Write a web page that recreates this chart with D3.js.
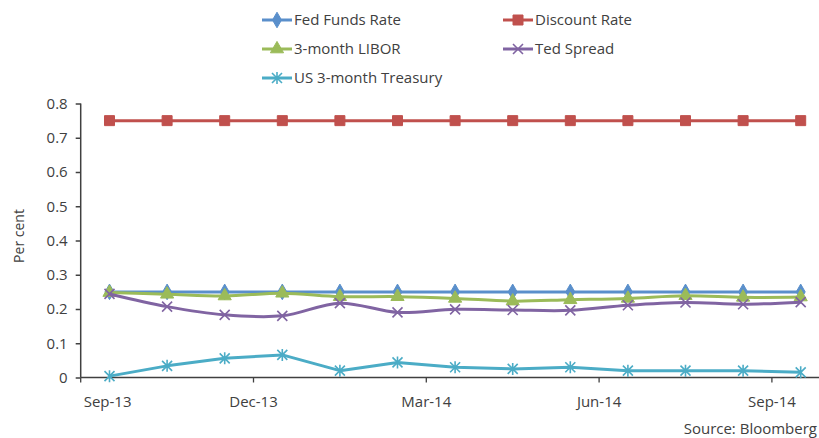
<!DOCTYPE html>
<html>
  <head>
    <meta charset="utf-8">
    <title>Rates</title>
    <script src="https://cdn.jsdelivr.net/npm/d3@7"></script>
    <style>
      body { margin: 0; background: #fff; }
      text { font-family: "Open Sans", sans-serif; fill: #404040; }
    </style>
  </head>
  <body>
    <svg width="819" height="438" id="mainsvg"></svg>
    <script>

    // months (categories) and the five series
    const months = ['Sep-13','Oct-13','Nov-13','Dec-13','Jan-14','Feb-14','Mar-14',
                    'Apr-14','May-14','Jun-14','Jul-14','Aug-14','Sep-14'];
    const fedFunds = [0.25,0.25,0.25,0.25,0.25,0.25,0.25,0.25,0.25,0.25,0.25,0.25,0.25];
    const discount = [0.75,0.75,0.75,0.75,0.75,0.75,0.75,0.75,0.75,0.75,0.75,0.75,0.75];
    const libor    = [0.248,0.243,0.238,0.246,0.236,0.236,0.231,0.223,0.227,0.231,0.239,0.234,0.235];
    const ted      = [0.244,0.207,0.183,0.180,0.217,0.190,0.199,0.197,0.196,0.211,0.219,0.214,0.220];
    const treasury = [0.004,0.034,0.056,0.066,0.020,0.044,0.030,0.025,0.030,0.020,0.020,0.020,0.015];
    const yTicks = [0,0.1,0.2,0.3,0.4,0.5,0.6,0.7,0.8];
    const xTickMonths = ['Sep-13','Dec-13','Mar-14','Jun-14','Sep-14'];

    const svg = d3.select('svg');

    const x = d3.scaleBand().domain(months).range([80.7, 80.7 + 13 * 57.6]);
    const y = d3.scaleLinear().domain([0, 0.8]).range([377.5, 103.5]);

    const series = [
      { name: 'Fed Funds Rate', values: fedFunds, color: '#5A8FCB', marker: 'diamond', smooth: false },
      { name: 'Discount Rate', values: discount, color: '#C0504D', marker: 'square', smooth: false },
      { name: '3-month LIBOR', values: libor, color: '#9BBB59', marker: 'triangle', smooth: true },
      { name: 'Ted Spread', values: ted, color: '#8064A2', marker: 'x', smooth: true },
      { name: 'US 3-month Treasury', values: treasury, color: '#4BACC6', marker: 'star', smooth: false }
    ];

    function markerPath(type) {
      if (type === 'diamond') return d3.symbol(d3.symbolDiamond, 70)();
      if (type === 'square') return d3.symbol(d3.symbolSquare, 100)();
      if (type === 'triangle') return d3.symbol(d3.symbolTriangle, 75)();
      if (type === 'x') return 'M-5,-5L5,5M-5,5L5,-5';
      return 'M-5,-5L5,5M-5,5L5,-5M0,-6L0,6';
    }

    function drawMarker(g, type, color) {
      const filled = (type === 'diamond' || type === 'square' || type === 'triangle');
      g.append('path')
        .attr('d', markerPath(type))
        .attr('fill', filled ? color : 'none')
        .attr('stroke', color)
        .attr('stroke-width', filled ? 1 : 1.6);
    }

    // axes
    const yAxis = svg.append('g')
      .attr('transform', 'translate(80.7,0)')
      .call(d3.axisLeft(y).tickValues(yTicks).tickFormat(d3.format('')).tickSize(5).tickPadding(8));
    yAxis.select('.domain').attr('d', 'M0,' + y(0.8) + 'V' + y(0));

    const xAxis = svg.append('g')
      .attr('transform', 'translate(0,' + y(0) + ')');
    xAxis.append('line')
      .attr('x1', x.range()[0]).attr('x2', x.range()[1])
      .attr('stroke', '#404040').attr('stroke-width', 1.5);
    const xt = xAxis.selectAll('g.xt').data(xTickMonths).enter().append('g')
      .attr('class', 'xt')
      .attr('transform', d => 'translate(' + x(d) + ',0)');
    xt.append('line').attr('y2', 5).attr('stroke', '#404040').attr('stroke-width', 1.3);
    xt.append('text')
      .attr('y', 29)
      .attr('x', (d, i) => i === 0 ? 3 : 0)
      .attr('text-anchor', (d, i) => i === 0 ? 'start' : 'middle')
      .style('font-size', '15px')
      .text(d => d);

    yAxis.selectAll('.domain, .tick line').attr('stroke', '#404040').attr('stroke-width', 1.5);
    yAxis.selectAll('.tick text').style('font-size', '15px').style('font-family', '"Open Sans", sans-serif').attr('fill', '#404040');

    svg.append('text')
      .attr('transform', 'translate(24,236) rotate(-90)')
      .attr('text-anchor', 'middle')
      .style('font-size', '14px')
      .text('Per cent');

    // lines + markers
    series.forEach(s => {
      const line = d3.line()
        .x((d, i) => x(months[i]) + x.bandwidth() / 2)
        .y(d => y(d))
        .curve(s.smooth ? d3.curveCatmullRom.alpha(0.5) : d3.curveLinear);
      svg.append('path')
        .datum(s.values)
        .attr('d', line)
        .attr('fill', 'none')
        .attr('stroke', s.color)
        .attr('stroke-width', 3)
        .attr('stroke-linejoin', 'round');
      s.values.forEach((v, i) => {
        const g = svg.append('g')
          .attr('transform', 'translate(' + (x(months[i]) + x.bandwidth() / 2) + ',' + y(v) + ')');
        drawMarker(g, s.marker, s.color);
      });
    });

    // legend
    const legendPos = [[262, 20], [503, 20], [262, 49], [503, 49], [262, 78]];
    series.forEach((s, i) => {
      const g = svg.append('g').attr('transform', 'translate(' + legendPos[i][0] + ',' + legendPos[i][1] + ')');
      g.append('line').attr('x1', 0).attr('x2', 30).attr('stroke', s.color).attr('stroke-width', 3);
      const m = g.append('g').attr('transform', 'translate(15,0)');
      drawMarker(m, s.marker, s.color);
      g.append('text')
        .attr('x', 32).attr('dy', '0.35em')
        .style('font-size', '15px')
        .text(s.name);
    });

    svg.append('text')
      .attr('x', 817).attr('y', 434)
      .attr('text-anchor', 'end')
      .style('font-size', '15px')
      .text('Source: Bloomberg');

    </script>
  </body>
</html>
